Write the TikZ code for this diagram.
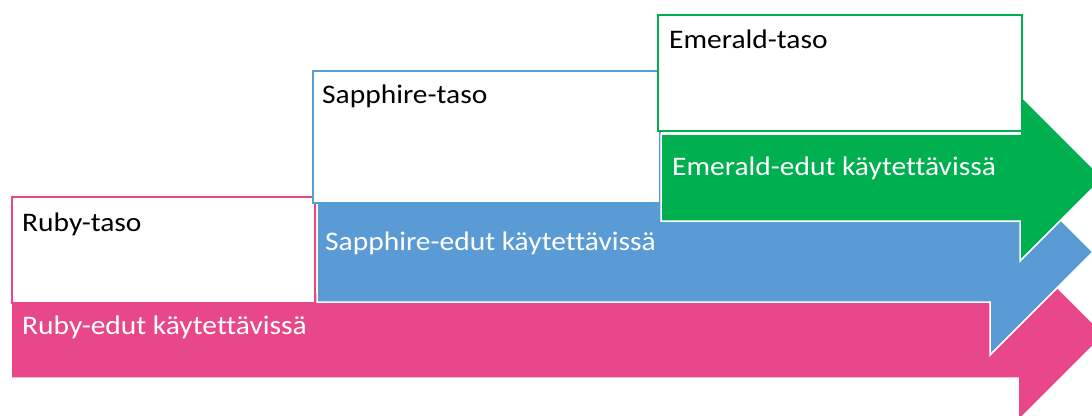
\documentclass[tikz,border=0pt]{standalone}
\usepackage{fontspec}
\setmainfont{Carlito}[FakeStretch=1.1,Ligatures={NoCommon}]
\definecolor{rubyc}{HTML}{E8488A}
\definecolor{sapphc}{HTML}{5B9BD5}
\definecolor{emerc}{HTML}{00B050}
\begin{document}
\begin{tikzpicture}[x=1pt,y=-1pt,
  arrowbody/.style={line width=1.5pt,draw=white,line join=miter},
  tierbox/.style={fill=white,line width=1.6pt},
  boxlabel/.style={anchor=base west,inner sep=0pt,font=\fontsize{26.8}{30}\selectfont,text=black},
  arrowlabel/.style={anchor=base west,inner sep=0pt,font=\fontsize{26.8}{30}\selectfont,text=white}]
\useasboundingbox (0,0) rectangle (1092,415);
\clip (0,0) rectangle (1092,415);
\fill[white] (0,0) rectangle (1092,415);
% Ruby arrow
\draw[arrowbody,fill=rubyc] (11,292) -- (1018,292) -- (1018,248) -- (1104.5,334.5) -- (1018,421) -- (1018,378) -- (11,378) -- cycle;
\draw[tierbox,draw=rubyc] (12,197) rectangle (315,303);
\node[boxlabel] (rubytier) at (22,231) {Ruby-taso};
\node[arrowlabel] (rubyben) at (22,334) {Ruby-edut käytettävissä};
% Sapphire arrow
\draw[arrowbody,fill=sapphc] (317,202) -- (990,202) -- (990,149) -- (1093,252) -- (990,355) -- (990,302) -- (317,302) -- cycle;
\draw[tierbox,draw=sapphc] (313,71) rectangle (660,203);
\node[boxlabel] (sapphtier) at (322,103) {Sapphire-taso};
\node[arrowlabel] (sapphben) at (325,250) {Sapphire-edut käytettävissä};
% Emerald arrow
\draw[arrowbody,fill=emerc] (661,134) -- (1020,134) -- (1020,95) -- (1103,178) -- (1020,261) -- (1020,221) -- (661,221) -- cycle;
\draw[tierbox,draw=emerc] (658,15) rectangle (1022,131);
\node[boxlabel] (emertier) at (669,48) {Emerald-taso};
\node[arrowlabel] (emerben) at (672,175) {Emerald-edut käytettävissä};
\end{tikzpicture}
\end{document}
